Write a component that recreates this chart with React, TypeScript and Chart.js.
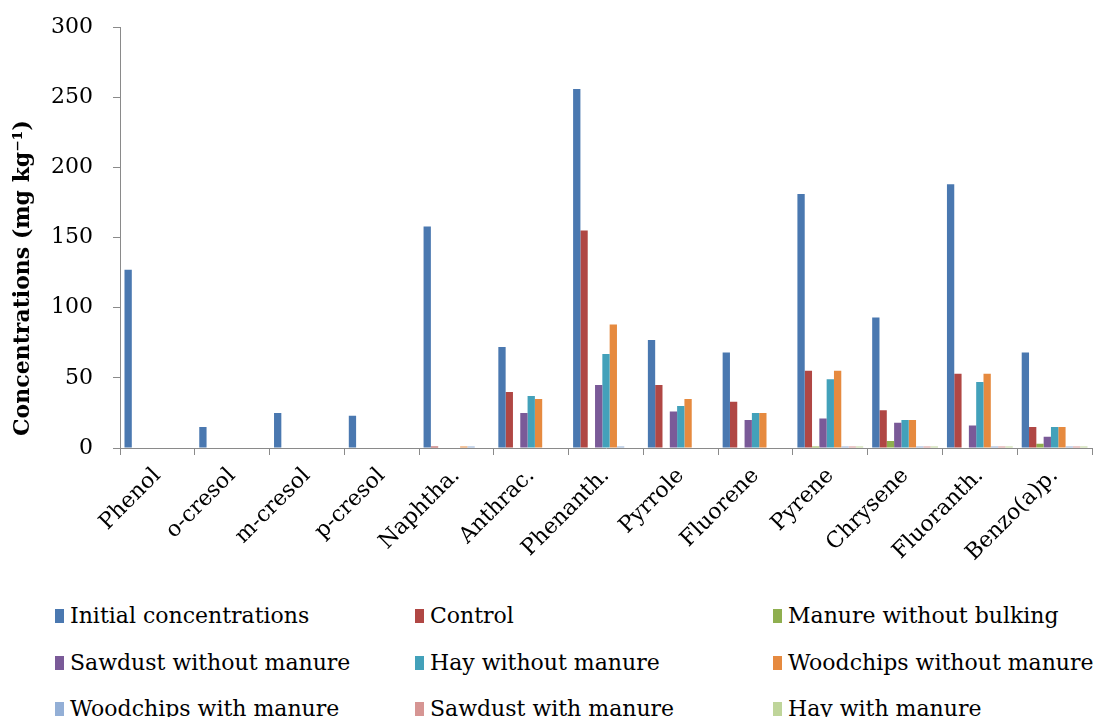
import React, { useEffect, useRef } from "react";
import { Chart, registerables } from "chart.js";

Chart.register(...registerables);

const categories = [
  "Phenol", "o-cresol", "m-cresol", "p-cresol", "Naphtha.", "Anthrac.", "Phenanth.",
  "Pyrrole", "Fluorene", "Pyrene", "Chrysene", "Fluoranth.", "Benzo(a)p.",
];

const initialConc = [127, 15, 25, 23, 158, 72, 256, 77, 68, 181, 93, 188, 68];
const control = [0, 0, 0, 0, 1, 40, 155, 45, 33, 55, 27, 53, 15];
const manureWithoutBulking = [0, 0, 0, 0, 0, 0, 0, 0, 0, 1, 5, 0, 3];
const sawdustWithoutManure = [0, 0, 0, 0, 0, 25, 45, 26, 20, 21, 18, 16, 8];
const hayWithoutManure = [0, 0, 0, 0, 0, 37, 67, 30, 25, 49, 20, 47, 15];
const woodchipsWithoutManure = [0, 0, 0, 0, 1, 35, 88, 35, 25, 55, 20, 53, 15];
const woodchipsWithManure = [0, 0, 0, 0, 1, 0, 1, 0, 0, 1, 1, 1, 1];
const sawdustWithManure = [0, 0, 0, 0, 0, 0, 0, 0, 0, 1, 1, 1, 1];
const hayWithManure = [0, 0, 0, 0, 0, 0, 0, 0, 0, 1, 1, 1, 1];

const yTicks = [0, 50, 100, 150, 200, 250, 300];
const yTitle = "Concentrations (mg kg\u207B\u00B9)";

const seriesNames = [
  "Initial concentrations", "Control", "Manure without bulking",
  "Sawdust without manure", "Hay without manure", "Woodchips without manure",
  "Woodchips with manure", "Sawdust with manure", "Hay with manure",
];
const seriesData = [
  initialConc, control, manureWithoutBulking, sawdustWithoutManure, hayWithoutManure,
  woodchipsWithoutManure, woodchipsWithManure, sawdustWithManure, hayWithManure,
];
const seriesColors = [
  "#4A78B0", "#B04744", "#8FAF4F", "#7A5A98", "#43A1BA", "#E68A3F",
  "#93AFD6", "#D69593", "#BFD59A",
];

const FONT = "'DejaVu Serif', 'Liberation Serif', serif";
const SHIFT = 6;

const yTitlePlugin = {
  id: "yTitlePlugin",
  afterDraw(chart: any) {
    const ctx = chart.ctx;
    ctx.save();
    ctx.translate(23, 278 + SHIFT);
    ctx.rotate(-Math.PI / 2);
    ctx.font = `bold 22px ${FONT}`;
    ctx.fillStyle = "#000";
    ctx.textAlign = "center";
    ctx.textBaseline = "middle";
    ctx.fillText(yTitle, 0, 0);
    ctx.restore();
  },
};

export default function App() {
  const ref = useRef<HTMLCanvasElement | null>(null);

  useEffect(() => {
    if (!ref.current) return;
    const chart = new Chart(ref.current, {
      type: "bar",
      data: {
        labels: categories,
        datasets: seriesData.map((d, i) => ({
          label: seriesNames[i],
          data: d,
          backgroundColor: seriesColors[i],
          borderWidth: 0,
          categoryPercentage: 0.88,
          barPercentage: 1,
        })),
      },
      plugins: [yTitlePlugin],
      options: {
        animation: false,
        responsive: false,
        devicePixelRatio: 1,
        layout: { padding: { top: 8, right: 11, left: 0, bottom: 0 } },
        plugins: {
          legend: { display: false },
          tooltip: { enabled: false },
        },
        scales: {
          x: {
            grid: {
              display: true,
              drawOnChartArea: false,
              drawTicks: true,
              tickLength: 7,
              color: "#8a8a8a",
              offset: true,
            },
            border: { display: true, color: "#8a8a8a", width: 1 },
            ticks: {
              minRotation: 45,
              maxRotation: 45,
              autoSkip: false,
              padding: 8,
              color: "#000",
              font: { family: FONT, size: 22 },
            },
            afterFit: (s: any) => { s.height = 142; },
          },
          y: {
            min: 0,
            max: 300,
            afterBuildTicks: (s: any) => { s.ticks = yTicks.map((v) => ({ value: v })); },
            grid: {
              display: true,
              drawOnChartArea: false,
              drawTicks: true,
              tickLength: 7,
              color: "#8a8a8a",
            },
            border: { display: true, color: "#8a8a8a", width: 1 },
            ticks: {
              padding: 20,
              color: "#000",
              font: { family: FONT, size: 22 },
            },
            afterFit: (s: any) => { s.width = 120; },
          },
        },
      },
    });
    return () => chart.destroy();
  }, []);

  const cols = [55, 415, 773];
  const rows = [615, 662, 708];

  return (
    <div style={{ position: "fixed", left: 0, top: 0, width: 1103, height: 717, overflow: "hidden", background: "#fff" }}>
      <canvas ref={ref} width={1103} height={590 + SHIFT} style={{ position: "absolute", left: 0, top: -SHIFT }} />
      {seriesNames.map((name, i) => {
        const c = cols[i % 3];
        const r = rows[Math.floor(i / 3)];
        return (
          <div key={name} style={{ position: "absolute", left: c, top: r - 15, height: 30, display: "flex", alignItems: "center", fontFamily: FONT, fontSize: 22, color: "#000", whiteSpace: "nowrap" }}>
            <span style={{ display: "inline-block", width: 9, height: 14, background: seriesColors[i], marginRight: 6, marginTop: 2 }} />
            <span>{name}</span>
          </div>
        );
      })}
    </div>
  );
}
